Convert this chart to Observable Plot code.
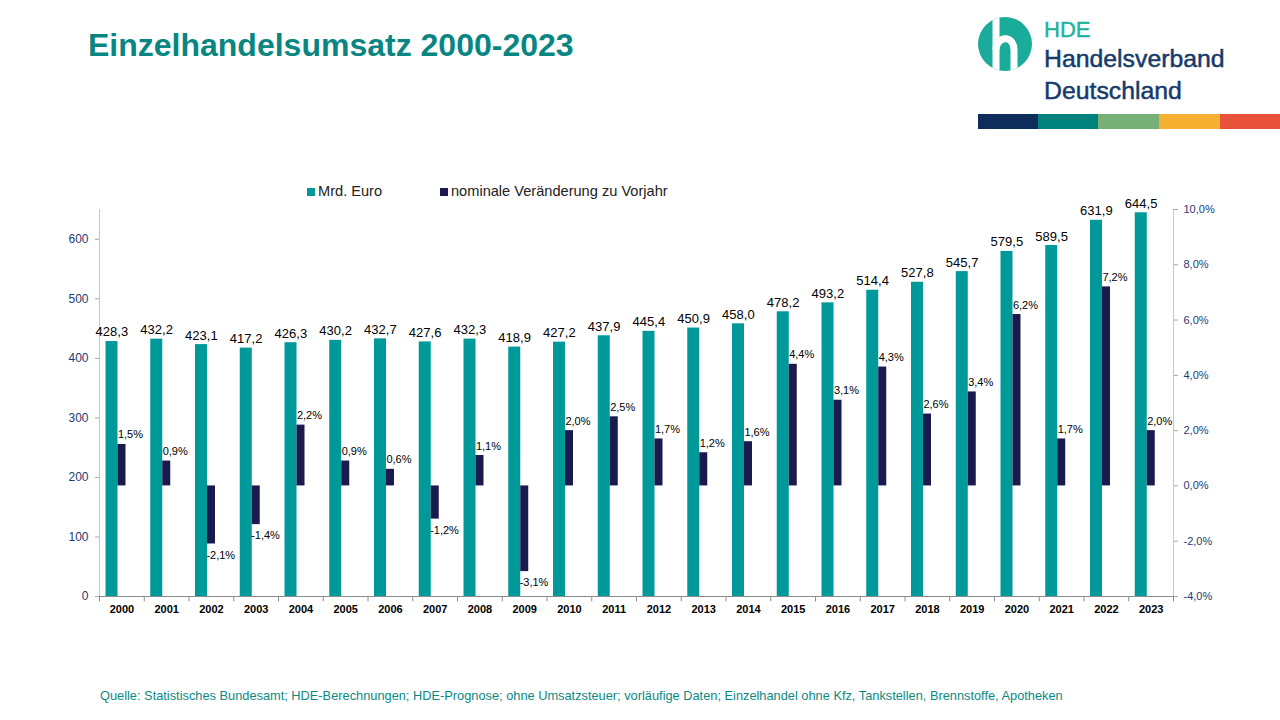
<!DOCTYPE html>
<html><head><meta charset="utf-8">
<script src="https://cdn.jsdelivr.net/npm/d3@7"></script>
<script src="https://cdn.jsdelivr.net/npm/@observablehq/plot@0.6"></script>
<style>
body{margin:0;background:#fff;font-family:"Liberation Sans",Arial,sans-serif;}
#page{position:relative;width:1280px;height:720px;overflow:hidden;background:#fff;}
#title{position:absolute;left:88px;top:29px;font-size:32px;line-height:1;font-weight:bold;color:#098682;white-space:nowrap;}
#logo{position:absolute;left:960px;top:0;}
#legend{position:absolute;top:182px;left:0;width:1280px;height:18px;font-size:14.6px;color:#222;}
.lg{position:absolute;top:0;line-height:18px;white-space:nowrap;}
.sw{display:inline-block;width:8px;height:8px;margin-right:3px;vertical-align:0px;}
#chart{position:absolute;left:0;top:170px;}
#source{position:absolute;left:100px;top:688px;font-size:12.8px;color:#0b8a84;white-space:nowrap;}
</style></head><body>
<div id="page">
  <div id="title">Einzelhandelsumsatz 2000-2023</div>
  <svg id="logo" width="320" height="135" viewBox="960 0 320 135">
    <defs><clipPath id="cc"><circle cx="1005" cy="44" r="27"/></clipPath></defs>
    <circle cx="1005" cy="44" r="27" fill="#1aab9b"/>
    <g clip-path="url(#cc)" fill="none" stroke="#fff" stroke-width="7">
      <path d="M996,14 V74"/>
      <path d="M996,50 C996,36 1014,34 1014,50 V74"/>
    </g>
    <g font-family="Liberation Sans, Arial, sans-serif">
    <text x="1044" y="37" font-size="22" fill="#1cb2a0" stroke="#1cb2a0" stroke-width="0.4">HDE</text>
    <text x="1044" y="67" font-size="24.8" fill="#163a6b" stroke="#163a6b" stroke-width="0.5">Handelsverband</text>
    <text x="1044" y="99" font-size="24.8" fill="#163a6b" stroke="#163a6b" stroke-width="0.5">Deutschland</text>
    </g>
    <rect x="978" y="114" width="61" height="15" fill="#0e2d5b"/>
    <rect x="1038" y="114" width="61" height="15" fill="#00827f"/>
    <rect x="1098" y="114" width="61" height="15" fill="#77b077"/>
    <rect x="1159" y="114" width="61" height="15" fill="#f7b132"/>
    <rect x="1220" y="114" width="60" height="15" fill="#e9523a"/>
  </svg>
  <div id="legend">
    <div class="lg" style="left:307px"><span class="sw" style="background:#009999"></span>Mrd. Euro</div>
    <div class="lg" style="left:440px"><span class="sw" style="background:#1b1a4e"></span>nominale Veränderung zu Vorjahr</div>
  </div>
  <div id="chart"></div>
  <div id="source">Quelle: Statistisches Bundesamt; HDE-Berechnungen; HDE-Prognose; ohne Umsatzsteuer; vorläufige Daten; Einzelhandel ohne Kfz, Tankstellen, Brennstoffe, Apotheken</div>
</div>
<script>
const years = ["2000","2001","2002","2003","2004","2005","2006","2007","2008","2009","2010","2011","2012","2013","2014","2015","2016","2017","2018","2019","2020","2021","2022","2023"];
const umsatz = [428.3,432.2,423.1,417.2,426.3,430.2,432.7,427.6,432.3,418.9,427.2,437.9,445.4,450.9,458.0,478.2,493.2,514.4,527.8,545.7,579.5,589.5,631.9,644.5];
const veraenderung = [1.5,0.9,-2.1,-1.4,2.2,0.9,0.6,-1.2,1.1,-3.1,2.0,2.5,1.7,1.2,1.6,4.4,3.1,4.3,2.6,3.4,6.2,1.7,7.2,2.0];
const leftTicks = [0,100,200,300,400,500,600];
const rightTicks = [-4,-2,0,2,4,6,8,10];
const leftMax = 650, pctMin = -4, pctMax = 10;

const conv = p => (p - pctMin) / (pctMax - pctMin) * leftMax;
const inv = v => v / leftMax * (pctMax - pctMin) + pctMin;
const fmt1 = v => v.toFixed(1).replace(".", ",");

const rows = years.map((y, i) => ({year: y, rev: umsatz[i], pct: veraenderung[i]}));

const W = 1280, H = 460, mL = 99, mR = 107, mT = 39, mB = 34;
const bw = (W - mL - mR) / years.length;
const teal = "#009999", navy = "#1b1a4e";

const chart = Plot.plot({
  width: W, height: H,
  marginLeft: mL, marginRight: mR, marginTop: mT, marginBottom: mB,
  style: {fontFamily: "Liberation Sans, Arial, sans-serif", background: "transparent", overflow: "visible"},
  x: {type: "band", domain: years, padding: 0, round: false, axis: null},
  y: {domain: [0, leftMax], axis: null},
  marks: [
    Plot.barY(rows, {x: "year", y: "rev", fill: teal, insetLeft: 6.5, insetRight: bw - 18.5}),
    Plot.barY(rows, {x: "year", y1: conv(0), y2: d => conv(d.pct), fill: navy, insetLeft: 18.5, insetRight: bw - 26.5}),
    Plot.ruleX([years[0]], {dx: -bw / 2, stroke: "#c6c6c6"}),
    Plot.ruleX([years[years.length - 1]], {dx: bw / 2, stroke: "#c6c6c6"}),
    Plot.ruleY([0], {stroke: "#8c8c8c"}),
    Plot.ruleX(years, {dx: -bw / 2, y1: 0, y2: -9, stroke: "#8c8c8c"}),
    Plot.ruleX([years[years.length - 1]], {dx: bw / 2, y1: 0, y2: -9, stroke: "#8c8c8c"}),
    Plot.axisY(leftTicks, {anchor: "left", label: null, tickSize: 4, tickPadding: 7, fontSize: 12, stroke: "#a6a6a6", fill: "#1f3a73", tickFormat: d => String(d)}),
    Plot.axisY(rightTicks.map(conv), {anchor: "right", label: null, tickSize: 4, tickPadding: 6, fontSize: 11, stroke: "#a6a6a6", fill: "#1f3a73", tickFormat: v => fmt1(Math.round(inv(v) * 10) / 10) + "%"}),
    Plot.axisX({label: null, tickSize: 0, tickPadding: 9, fontSize: 11, fontWeight: "bold", fill: "#000"}),
    Plot.text(rows, {x: "year", y: "rev", text: d => fmt1(d.rev), dx: -10, dy: -5, lineAnchor: "bottom", fontSize: 13, fill: "#000"}),
    Plot.text(rows.filter(d => d.pct >= 0), {x: "year", y: d => conv(d.pct), text: d => fmt1(d.pct) + "%", dx: -4, dy: -6, textAnchor: "start", lineAnchor: "bottom", fontSize: 11, fill: "#000"}),
    Plot.text(rows.filter(d => d.pct < 0), {x: "year", y: d => conv(d.pct), text: d => fmt1(d.pct) + "%", dx: -5, dy: 7, textAnchor: "start", lineAnchor: "top", fontSize: 11, fill: "#000"})
  ]
});
document.getElementById("chart").appendChild(chart);
</script>
</body></html>
